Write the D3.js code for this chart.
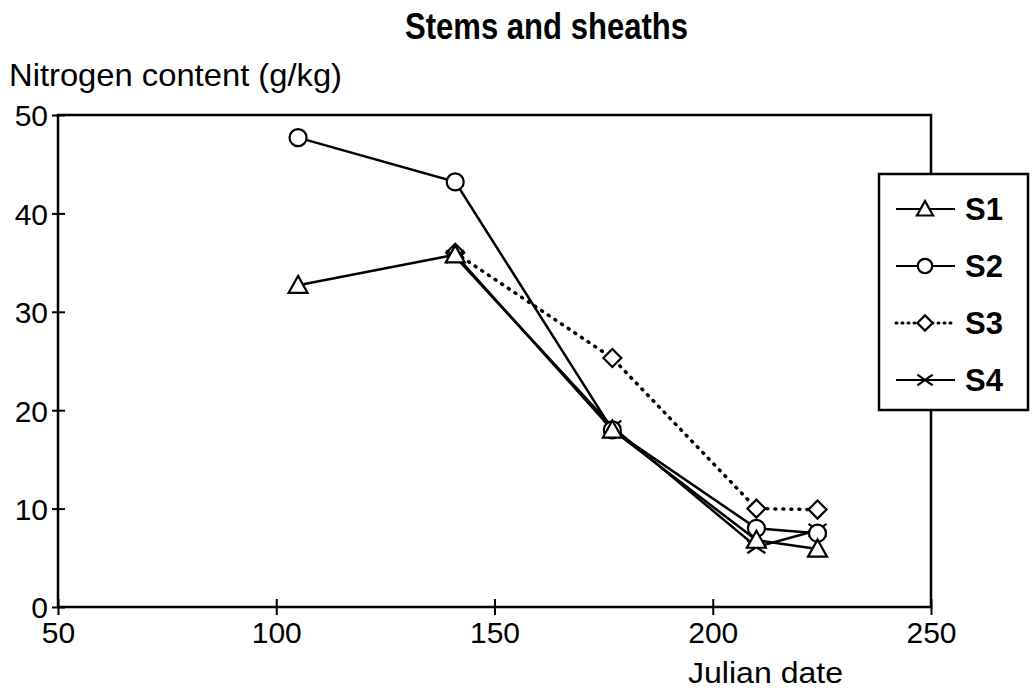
<!DOCTYPE html>
<html>
<head>
<meta charset="utf-8">
<script src="https://cdn.jsdelivr.net/npm/d3@7"></script>
<style>
  body { margin: 0; background: #fff; }
  svg { display: block; }
  text { font-family: "Liberation Sans", Arial, Helvetica, sans-serif; fill: #000; }
</style>
</head>
<body>
<svg id="chart" width="1035" height="692"></svg>
<script>
// Sampling dates (Julian day) and nitrogen content (g/kg) for each treatment
const dates = [105, 141, 177, 210, 224];
const s1 = [32.7, 35.8, 18.0, 6.8, 5.9];
const s2 = [47.7, 43.2, 18.0, 8.0, 7.5];
const s3 = [null, 36.0, 25.3, 10.0, 9.9];
const s4 = [null, 35.6, 18.3, 6.1, 7.8];
const seriesNames = ["S1", "S2", "S3", "S4"];
const xTicks = [50, 100, 150, 200, 250];
const yTicks = [0, 10, 20, 30, 40, 50];

const svg = d3.select("#chart");
const mLeft = 58, mRight = 931, mTop = 115, mBottom = 607;

const x = d3.scaleLinear().domain([50, 250]).range([mLeft, mRight]);
const y = d3.scaleLinear().domain([0, 50]).range([mBottom, mTop]);

// Title and axis titles
svg.append("text").attr("x", 405).attr("y", 39)
  .attr("font-size", 36).attr("font-weight", "bold")
  .attr("textLength", 283).attr("lengthAdjust", "spacingAndGlyphs")
  .text("Stems and sheaths");
svg.append("text").attr("x", 9).attr("y", 86)
  .attr("font-size", 32).attr("textLength", 333).attr("lengthAdjust", "spacingAndGlyphs")
  .text("Nitrogen content (g/kg)");
svg.append("text").attr("x", 688).attr("y", 683)
  .attr("font-size", 30).attr("textLength", 155).attr("lengthAdjust", "spacingAndGlyphs")
  .text("Julian date");

// Frame
svg.append("rect").attr("x", mLeft).attr("y", mTop)
  .attr("width", mRight - mLeft).attr("height", mBottom - mTop)
  .attr("fill", "none").attr("stroke", "#000").attr("stroke-width", 2.5);

// Axes with ticks crossing the frame line
const xAxis = d3.axisBottom(x).tickValues(xTicks).tickSizeInner(8).tickSizeOuter(0);
const gx = svg.append("g").attr("transform", `translate(0,${mBottom})`).call(xAxis);
gx.select(".domain").remove();
gx.selectAll(".tick line").attr("y1", -8).attr("stroke-width", 2);
gx.selectAll(".tick text").attr("font-size", 30).attr("font-family", "Liberation Sans, Arial, sans-serif")
  .attr("dy", null).attr("y", 36);

const yAxis = d3.axisLeft(y).tickValues(yTicks).tickSizeInner(7).tickSizeOuter(0);
const gy = svg.append("g").attr("transform", `translate(${mLeft},0)`).call(yAxis);
gy.select(".domain").remove();
gy.selectAll(".tick line").attr("x1", 7).attr("x2", -6).attr("stroke-width", 2);
gy.selectAll(".tick text").attr("font-size", 30).attr("font-family", "Liberation Sans, Arial, sans-serif")
  .attr("x", -10).attr("dy", "0.36em");

// Open markers: triangle, circle, diamond, and a cross for S4
function drawMarker(g, name, cx, cy, scale) {
  const k = scale || 1;
  if (name === "S4") {
    const r = 9 * k;
    g.append("path")
      .attr("d", `M${cx - r},${cy - r * 0.7}L${cx + r},${cy + r * 0.7}M${cx - r},${cy + r * 0.7}L${cx + r},${cy - r * 0.7}`)
      .attr("stroke", "#000").attr("stroke-width", 2.2).attr("fill", "none");
    return;
  }
  if (name === "S2") {
    g.append("circle").attr("cx", cx).attr("cy", cy).attr("r", 8.5 * k)
      .attr("fill", "#fff").attr("stroke", "#000").attr("stroke-width", 2.2);
    return;
  }
  let path;
  if (name === "S3") {
    const r = 9 * k;
    path = `M${cx},${cy - r}L${cx + r},${cy}L${cx},${cy + r}L${cx - r},${cy}Z`;
  } else {
    const h = 17 * k, w = 19 * k;
    path = `M${cx},${cy - h * 0.55}L${cx + w / 2},${cy + h * 0.45}L${cx - w / 2},${cy + h * 0.45}Z`;
  }
  g.append("path").attr("d", path).attr("fill", "#fff")
    .attr("stroke", "#000").attr("stroke-width", 2.2).attr("stroke-linejoin", "miter");
}

const data = { S1: s1, S2: s2, S3: s3, S4: s4 };
const dash = { S1: null, S2: null, S3: "1,7", S4: null };
const line = d3.line().defined(d => d[1] != null).x(d => x(d[0])).y(d => y(d[1]));

const plot = svg.append("g");
// Lines first, then markers on top
seriesNames.forEach(n => {
  const pts = dates.map((d, i) => [d, data[n][i]]);
  plot.append("path").datum(pts).attr("d", line).attr("fill", "none")
    .attr("stroke", "#000").attr("stroke-width", n === "S3" ? 3.5 : 2.5)
    .attr("stroke-dasharray", dash[n]).attr("stroke-linecap", n === "S3" ? "round" : "butt");
});
["S3", "S4", "S2", "S1"].forEach(n => {
  dates.forEach((d, i) => {
    const v = data[n][i];
    if (v != null) drawMarker(plot, n, x(d), y(v));
  });
});

// Legend
const lg = svg.append("g");
lg.append("rect").attr("x", 879).attr("y", 174).attr("width", 149).attr("height", 236)
  .attr("fill", "#fff").attr("stroke", "#000").attr("stroke-width", 2.5);
seriesNames.forEach((n, i) => {
  const cy = 209 + i * 57;
  lg.append("line").attr("x1", 896).attr("x2", 955).attr("y1", cy).attr("y2", cy)
    .attr("stroke", "#000").attr("stroke-width", n === "S3" ? 3 : 2)
    .attr("stroke-dasharray", n === "S3" ? "1,5" : null).attr("stroke-linecap", n === "S3" ? "round" : "butt");
  drawMarker(lg, n, 925, cy, 0.85);
  lg.append("text").attr("x", 965).attr("y", cy).attr("dy", "0.36em")
    .attr("font-size", 31).attr("font-weight", "bold").text(n);
});
</script>
</body>
</html>
